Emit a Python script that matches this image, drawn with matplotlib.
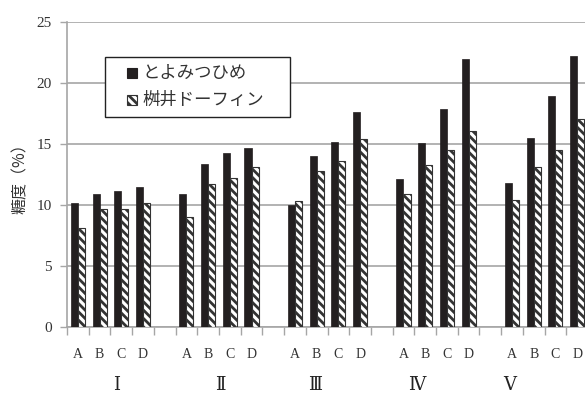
import matplotlib
matplotlib.use("Agg")
import matplotlib.pyplot as plt
import matplotlib.patches as mpatches
import numpy as np

plt.rcParams['font.family'] = ['Liberation Serif', 'Noto Sans CJK JP', 'DejaVu Sans']
plt.rcParams['hatch.linewidth'] = 2.0

groups = ['Ⅰ', 'Ⅱ', 'Ⅲ', 'Ⅳ', 'Ⅴ']
cats = ['A', 'B', 'C', 'D']
series_names = ['とよみつひめ', '桝井ドーフィン']
toyomitsuhime = [
    [10.2, 10.9, 11.15, 11.45],
    [10.9, 13.35, 14.25, 14.65],
    [10.0, 14.0, 15.15, 17.6],
    [12.1, 15.1, 17.85, 21.95],
    [11.8, 15.5, 18.9, 22.2],
]
masui = [
    [8.1, 9.65, 9.65, 10.15],
    [9.0, 11.7, 12.25, 13.15],
    [10.35, 12.8, 13.6, 15.4],
    [10.9, 13.25, 14.5, 16.1],
    [10.45, 13.15, 14.5, 17.05],
]
yticks = [0, 5, 10, 15, 20, 25]
group_label_x = [2.26, 7.05, 11.43, 16.13, 20.41]

W, H = 585, 393
fig = plt.figure(figsize=(W / 100, H / 100), dpi=100)
ax = fig.add_axes([67 / W, 1 - 327 / H, 521 / W, 305 / H])

gray = '#a6a6a6'
dark = '#231f20'
hatch = '\\\\\\\\'
bw = 0.325
centers = []
labels = []
for g in range(len(groups)):
    for c in range(len(cats)):
        slot = g * 5 + c
        ax.bar(slot + 0.5 - bw / 2, toyomitsuhime[g][c], width=bw, color=dark,
               edgecolor=dark, linewidth=0.5, zorder=3)
        ax.bar(slot + 0.5 + bw / 2, masui[g][c], width=bw, color='white',
               edgecolor='#333333', hatch=hatch, linewidth=0.8, zorder=3)
        centers.append(slot + 0.5)
        labels.append(cats[c])

nslots = len(groups) * 5 - 1
ax.set_xlim(0, nslots)
ax.set_ylim(0, 25)
ax.set_yticks(yticks)
ax.set_yticklabels([str(v) for v in yticks], fontsize=11, color='#333333')
ax.yaxis.grid(True, color=gray, linewidth=1.2, zorder=0)
ax.set_axisbelow(True)

ax.set_xticks(centers)
ax.set_xticklabels(labels, fontsize=10, color='#333333')
ax.tick_params(axis='x', which='major', length=0, pad=15)
ax.set_xticks(np.arange(0, nslots + 1), minor=True)
ax.tick_params(axis='x', which='minor', length=6, color=gray, width=1)
ax.tick_params(axis='y', length=5, color=gray, width=1, pad=6)

for s in ['top', 'right']:
    ax.spines[s].set_visible(False)
for s in ['left', 'bottom']:
    ax.spines[s].set_color(gray)
    ax.spines[s].set_linewidth(1.2)

for gx, gl in zip(group_label_x, groups):
    ax.text(gx, -0.19, gl, transform=ax.get_xaxis_transform(), ha='center', va='center',
            fontsize=13, family=['DejaVu Serif', 'Noto Sans CJK JP'], color='#222222')

fig.text(20 / W, 1 - 175 / H, '糖度（%）', rotation=90, ha='center', va='center',
         fontsize=11.5, family=['Noto Sans CJK JP', 'DejaVu Sans'], color='#333333')

# legend box (drawn in figure pixel coordinates)
def fx(px):
    return px / W

def fy(py):
    return 1 - py / H

fig.patches.append(mpatches.Rectangle((fx(105), fy(117)), fx(290) - fx(105), fy(57) - fy(117),
                                      transform=fig.transFigure, facecolor='white',
                                      edgecolor='#222222', linewidth=1.0, zorder=5))
legend_rows = [72.5, 100]
legend_styles = [dict(facecolor=dark, edgecolor=dark),
                 dict(facecolor='white', edgecolor='#333333', hatch=hatch)]
for name, ry, st in zip(series_names, legend_rows, legend_styles):
    fig.patches.append(mpatches.Rectangle((fx(127), fy(ry + 5)), fx(137) - fx(127), fy(ry - 5) - fy(ry + 5),
                                          transform=fig.transFigure, linewidth=0.8, zorder=6, **st))
    fig.text(fx(142), fy(ry), name, ha='left', va='center', fontsize=12.5,
             family=['Noto Sans CJK JP', 'DejaVu Sans'], color='#333333', zorder=7)

fig.savefig('out.png', dpi=100)
